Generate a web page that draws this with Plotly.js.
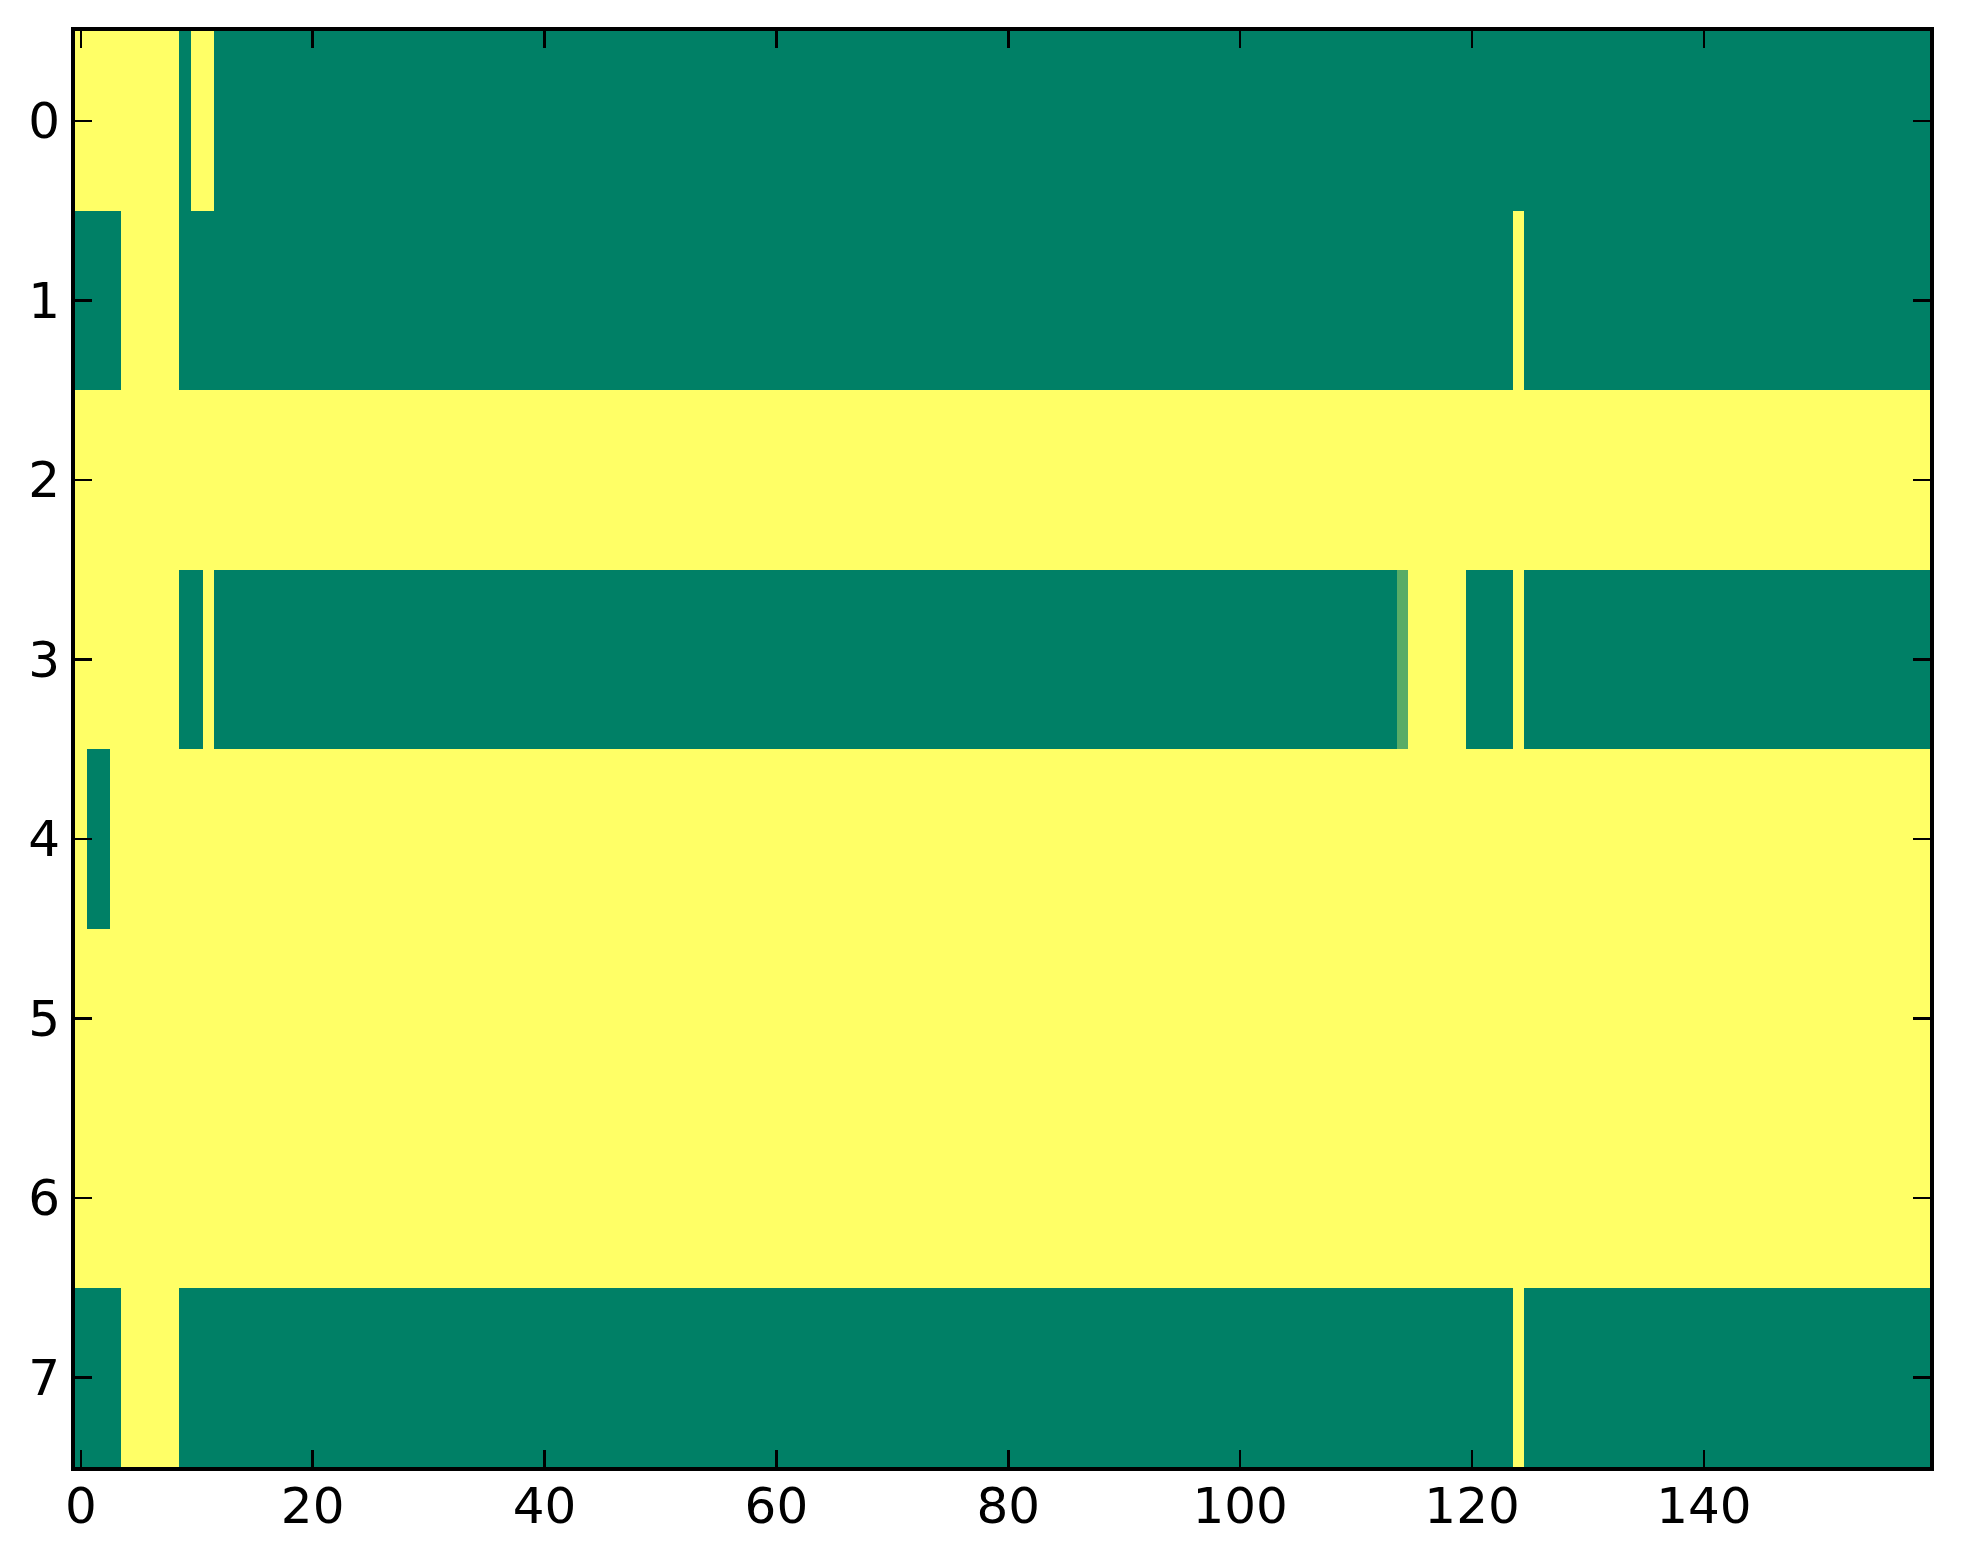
<!DOCTYPE html>
<html>
<head>
<meta charset="utf-8">
<script src="https://cdn.plot.ly/plotly-3.0.1.min.js"></script>
<style>
html,body{margin:0;padding:0;background:#fff;}
#chart{width:1963px;height:1564px;}
</style>
</head>
<body>
<div id="chart"></div>
<script>
// Each row given as runs: [value, run length] (160 columns)
const row0 = [[1, 9], [0, 1], [1, 2], [0, 148]];
const row1 = [[0, 4], [1, 5], [0, 115], [1, 1], [0, 35]];
const row2 = [[1, 160]];
const row3 = [[1, 9], [0, 2], [1, 1], [0, 102], [0.35, 1], [1, 5], [0, 4], [1, 1], [0, 35]];
const row4 = [[1, 1], [0, 2], [1, 157]];
const row5 = [[1, 160]];
const row6 = [[1, 160]];
const row7 = [[0, 4], [1, 5], [0, 115], [1, 1], [0, 35]];
const rowsRuns = [row0, row1, row2, row3, row4, row5, row6, row7];
const rowLabels = [0, 1, 2, 3, 4, 5, 6, 7];
const xTickVals = [0, 20, 40, 60, 80, 100, 120, 140];

function expand(runs) {
  const out = [];
  runs.forEach(([v, n]) => { for (let i = 0; i < n; i++) out.push(v); });
  return out;
}
const z = rowsRuns.map(expand);
const nCols = z[0].length;
const xs = Array.from({length: nCols}, (_, i) => i);

const trace = {
  type: 'heatmap',
  z: z,
  x: xs,
  y: rowLabels,
  zmin: 0,
  zmax: 1,
  zsmooth: false,
  showscale: false,
  colorscale: [[0, 'rgb(0,128,102)'], [1, 'rgb(255,255,102)']],
  hoverinfo: 'skip'
};

const axisCommon = {
  showgrid: false,
  zeroline: false,
  showline: true,
  linecolor: '#000',
  linewidth: 4,
  mirror: 'allticks',
  ticks: 'inside',
  ticklen: 17,
  tickwidth: 2.5,
  tickcolor: '#000',
  tickfont: {family: 'DejaVu Sans', size: 50, color: '#000'}
};

const layout = {
  width: 1963,
  height: 1564,
  paper_bgcolor: '#fff',
  plot_bgcolor: '#fff',
  margin: {l: 75, r: 33, t: 31, b: 97, pad: 0},
  xaxis: Object.assign({}, axisCommon, {
    range: [-0.5, nCols - 0.5],
    tickmode: 'array',
    tickvals: xTickVals,
    ticktext: xTickVals.map(String),
    ticklabelstandoff: -8
  }),
  yaxis: Object.assign({}, axisCommon, {
    range: [rowLabels.length - 0.5, -0.5],
    tickmode: 'array',
    tickvals: rowLabels,
    ticktext: rowLabels.map(String),
    ticklabelstandoff: 1
  }),
  showlegend: false
};

Plotly.newPlot('chart', [trace], layout, {displayModeBar: false, staticPlot: true});
</script>
</body>
</html>
